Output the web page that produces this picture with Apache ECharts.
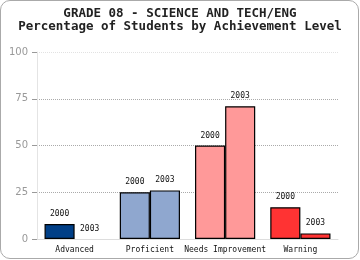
<!DOCTYPE html>
<html><head><meta charset="utf-8">
<script src="https://cdn.jsdelivr.net/npm/echarts@6/dist/echarts.min.js"></script>
<style>
html,body{margin:0;padding:0;background:#fff;}
#frame{position:absolute;left:0;top:0;width:357px;height:257px;border:1px solid #aaa;border-radius:10px;box-sizing:content-box;overflow:hidden;}
#c{position:absolute;left:0;top:0;width:360px;height:260px;}
</style></head>
<body>
<div id="frame"></div>
<div id="c"></div>
<script>
const categories = ['Advanced', 'Proficient', 'Needs Improvement', 'Warning'];
const years = ['2000', '2003'];
const values2000 = [8, 25, 50, 17];
const values2003 = [0, 26, 71, 3];
const catColors = ['#003f87', '#8fa7cf', '#ff9999', '#ff3333'];
const yTicks = [0, 25, 50, 75, 100];

const chart = echarts.init(document.getElementById('c'), null, {renderer: 'canvas'});
function mk(vals, name) {
  return {
    type: 'bar', name: name, barGap: 0, barCategoryGap: '20%',
    data: vals.map((v, i) => ({value: v, itemStyle: {color: catColors[i], borderWidth: v === 0 ? 0 : 1.2}})),
    itemStyle: {borderColor: '#000', borderWidth: 1.2},
    label: {show: true, position: 'top', formatter: name, color: '#111',
      fontFamily: 'DejaVu Sans Mono', fontSize: 8, distance: 6}
  };
}
chart.setOption({
  animation: false,
  backgroundColor: 'transparent',
  title: {
    text: 'GRADE 08 - SCIENCE AND TECH/ENG\nPercentage of Students by Achievement Level',
    left: 'center', top: 2,
    textStyle: {fontFamily: 'DejaVu Sans Mono', fontWeight: 'bold', fontSize: 12.5, lineHeight: 13, color: '#222'}
  },
  grid: {left: 37, right: 22, top: 52, bottom: 21},
  xAxis: {
    type: 'category', data: categories,
    axisLine: {lineStyle: {color: '#ddd'}},
    axisTick: {show: false},
    axisLabel: {color: '#111', fontFamily: 'DejaVu Sans Mono', fontSize: 8, margin: 7, interval: 0}
  },
  yAxis: {
    type: 'value', min: 0, max: 100, interval: 25,
    axisLine: {show: true, lineStyle: {color: '#e4e4e4'}},
    axisTick: {show: true, length: 5, lineStyle: {color: '#999'}},
    axisLabel: {color: '#999', fontFamily: 'DejaVu Sans', fontSize: 10, margin: 9,
      formatter: v => yTicks.includes(v) ? String(v) : ''},
    splitLine: {show: true, lineStyle: {color: ['#aaa', '#aaa', '#aaa', '#aaa', '#e2e2e2'], type: [1, 1]}}
  },
  series: [mk(values2000, years[0]), mk(values2003, years[1])]
});
</script>
</body></html>
